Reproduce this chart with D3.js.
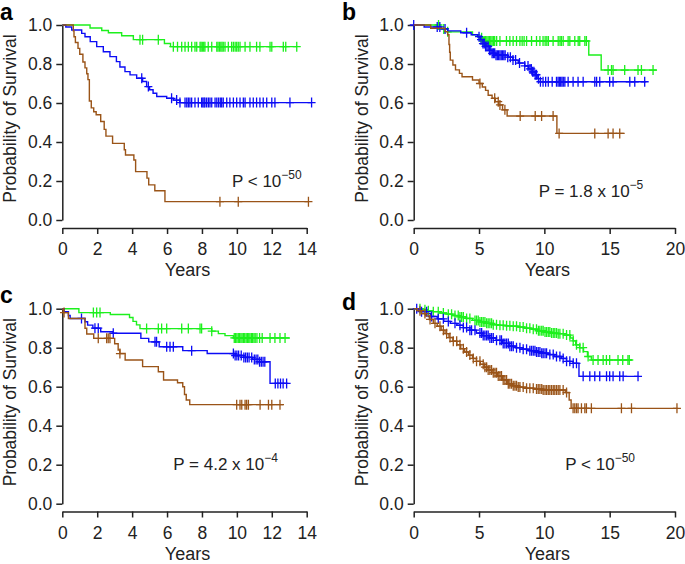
<!DOCTYPE html>
<html><head><meta charset="utf-8">
<script src="https://cdn.jsdelivr.net/npm/d3@7"></script>
<style>html,body{margin:0;padding:0;background:#fff;}svg{display:block;}</style>
</head><body>
<svg id="chart" width="685" height="564"></svg>
<script>
// ---------------- DATA ----------------
const yTicks = [0, 0.2, 0.4, 0.6, 0.8, 1.0];
const xTicks14 = [0, 2, 4, 6, 8, 10, 12, 14];
const xTicks20 = [0, 5, 10, 15, 20];
const panelLetters = ["a", "b", "c", "d"];
const pTexts = [["P < 10", "\u221250"], ["P = 1.8 x 10", "\u22125"], ["P = 4.2 x 10", "\u22124"], ["P < 10", "\u221250"]];
const groupNames = ["green", "blue", "brown"];

// Panel a: steps [time, survival after drop], censor times, end time
const aGreenSteps = [[1.59,.985],[2.26,.972],[2.64,.96],[3.4,.945],[4.07,.925],[5.85,.905],[6.2,.889]];
const aGreenCens = [4.45,4.6,5.5,6.36,6.6,6.84,7.03,7.22,7.41,7.6,7.7,7.89,7.95,8.02,8.1,8.17,8.36,8.56,8.85,8.92,9.0,9.08,9.15,9.22,9.32,9.51,9.7,9.8,9.9,9.99,10.08,10.18,10.47,10.75,11.13,11.32,11.9,12.0,12.66,12.8,13.43];
const aGreenEnd = 13.45;
const aBlueSteps = [[0.2,.99],[0.54,.974],[1.11,.957],[1.3,.94],[1.6,.915],[1.97,.889],[2.35,.863],[2.73,.838],[3.1,.812],[3.3,.785],[3.59,.761],[3.88,.744],[4.26,.727],[4.6,.71],[4.83,.684],[5.0,.668],[5.2,.65],[5.41,.633],[5.98,.624],[6.36,.615],[6.74,.602]];
const aBlueCens = [4.55,4.93,6.26,6.55,6.74,7.03,7.13,7.22,7.31,7.41,7.6,7.79,7.98,8.05,8.12,8.17,8.27,8.37,8.46,8.56,8.75,8.85,8.95,9.05,9.13,9.22,9.42,9.6,9.8,9.99,10.18,10.37,10.47,10.75,10.94,11.13,11.32,11.51,11.71,12.0,12.18,13.04,14.28];
const aBlueEnd = 14.3;
const aBrownSteps = [[0.63,.97],[0.67,.94],[0.75,.91],[0.9,.88],[1.0,.85],[1.18,.81],[1.3,.78],[1.4,.75],[1.47,.72],[1.55,.61],[1.66,.575],[1.8,.555],[1.94,.54],[2.2,.505],[2.4,.465],[2.5,.43],[2.88,.393],[3.55,.36],[3.62,.333],[4.1,.308],[4.2,.248],[4.85,.215],[4.95,.18],[5.3,.15],[5.88,.094]];
const aBrownCens = [9.03,10.08,14.1];
const aBrownEnd = 14.1;

// Panel b
const bGreenSteps = [[2.0,.98],[2.6,.965],[4.5,.95],[5.0,.935],[5.3,.918],[13.4,.846],[14.35,.769]];
const bGreenCens = [1.9,2.3,2.6,5.2,5.3,5.4,5.5,5.6,5.7,5.8,5.9,6.0,6.1,6.2,6.35,6.6,7.1,7.36,7.61,7.87,8.13,8.3,8.45,8.64,9.02,9.4,9.66,9.9,10.06,10.19,10.31,10.67,11.06,11.2,11.3,11.44,11.82,11.95,12.33,12.59,12.71,13.1,13.22,14.88,15.14,15.26,16.15,17.17,17.43,18.32];
const bGreenEnd = 18.6;
const bBlueSteps = [[0.8,.99],[2.1,.98],[2.6,.97],[3.6,.96],[4.4,.95],[4.9,.94],[5.1,.925],[5.3,.905],[5.5,.89],[5.8,.87],[6.0,.855],[6.3,.845],[7.2,.835],[7.6,.82],[8.0,.805],[8.5,.79],[8.8,.775],[9.1,.76],[9.3,.745],[9.5,.725],[9.7,.709]];
const bBlueCens = [0,1.8,2.0,2.4,4.05,5.0,5.15,5.3,5.4,5.5,5.6,5.7,5.8,5.9,6.0,6.1,6.2,6.3,6.4,6.5,6.6,6.7,6.8,6.9,7.0,7.2,7.4,7.6,7.8,8.1,8.5,8.75,8.9,9.0,9.1,9.2,9.3,9.4,9.55,9.7,9.9,10.1,10.3,10.6,10.93,11.05,11.15,11.25,11.35,11.45,11.57,11.82,12.2,12.58,12.97,13.86,14.0,14.24,15.0,15.26,16.54,16.92,17.68];
const bBlueEnd = 17.8;
const bBrownSteps = [[1.3,.983],[2.4,.966],[2.6,.95],[2.7,.9],[2.75,.86],[2.8,.82],[3.0,.795],[3.2,.77],[3.5,.752],[3.7,.735],[4.5,.718],[5.0,.7],[5.25,.682],[5.5,.665],[5.7,.64],[6.0,.624],[6.25,.607],[6.5,.59],[6.8,.565],[7.15,.533],[10.96,.444]];
const bBrownCens = [5.07,6.2,6.47,6.6,6.98,8.15,9.3,9.79,10.67,11.13,13.86,14.88,15.26,15.77];
const bBrownEnd = 16.15;

// Panel c
const cGreenSteps = [[0.95,.98],[2.75,.97],[3.85,.955],[4.05,.935],[4.25,.917],[4.45,.898],[8.56,.885],[8.94,.872],[9.32,.862],[9.8,.85]];
const cGreenCens = [1.78,1.97,2.16,4.83,5.5,5.69,5.98,6.84,7.22,7.89,7.98,8.56,9.85,9.92,10.0,10.08,10.15,10.23,10.3,10.38,10.45,10.53,10.6,10.68,10.75,10.83,10.9,10.98,11.05,11.15,11.3,11.45,11.9,12.18,12.47,12.76];
const cGreenEnd = 13.04;
const cBlueSteps = [[0.1,.985],[0.35,.965],[0.45,.95],[1.3,.933],[1.45,.916],[1.75,.9],[2.2,.882],[2.9,.874],[4.5,.848],[4.95,.83],[5.55,.805],[6.9,.785],[8.3,.77],[9.9,.76],[10.4,.75],[10.9,.74],[11.3,.728],[11.9,.617]];
const cBlueCens = [1.1,1.87,2.06,2.92,5.31,5.4,5.98,6.17,6.36,7.41,9.8,9.9,10.0,10.1,10.25,10.4,10.5,10.6,10.7,10.85,11.0,11.1,11.2,11.3,11.4,11.5,11.6,12.2,12.35,12.5,12.65,12.85];
const cBlueEnd = 12.95;
const cBrownSteps = [[0.05,.98],[0.35,.95],[1.3,.9],[1.4,.87],[1.8,.848],[3.0,.82],[3.2,.788],[3.3,.77],[3.6,.737],[4.6,.703],[5.5,.677],[5.8,.634],[6.6,.62],[6.9,.6],[7.0,.56],[7.1,.532],[7.3,.508]];
const cBrownCens = [0.1,2.06,2.54,2.63,2.73,3.3,9.99,10.18,10.28,10.47,10.56,10.66,11.33,11.81,12.0,12.47];
const cBrownEnd = 12.66;

// Panel d
const dGreenSteps = [[0.5,.995],[1.0,.99],[1.5,.985],[2.0,.978],[2.5,.972],[3.0,.965],[3.5,.958],[4.0,.95],[4.5,.94],[5.0,.932],[5.5,.925],[6.0,.918],[6.5,.915],[7.0,.912],[7.5,.91],[8.0,.906],[8.5,.9],[9.0,.895],[9.5,.887],[10.0,.88],[10.5,.875],[11.0,.872],[11.5,.865],[12.0,.85],[12.2,.835],[12.4,.815],[12.7,.8],[13.0,.78],[13.3,.755],[13.6,.737]];
const dGreenCens = [0.48,0.86,1.12,1.5,1.88,2.27,2.65,2.9,3.16,3.41,3.54,3.67,3.8,4.05,4.3,4.69,4.81,4.94,5.07,5.2,5.32,5.45,5.58,5.7,5.83,5.96,6.09,6.34,6.6,6.85,7.11,7.36,7.62,7.87,8.13,8.38,8.64,8.89,9.15,9.4,9.55,9.66,9.8,9.91,10.05,10.17,10.3,10.42,10.55,10.68,10.8,10.93,11.06,11.19,11.44,11.7,11.95,12.21,12.46,12.72,12.97,13.35,13.73,14.11,14.5,14.75,15.0,15.64,16.0,16.4,16.5];
const dGreenEnd = 16.7;
const dBlueSteps = [[0.3,.995],[0.6,.985],[1.0,.975],[1.3,.96],[1.8,.948],[2.3,.935],[2.8,.925],[3.3,.915],[3.8,.903],[4.3,.89],[4.8,.875],[5.3,.862],[5.8,.85],[6.3,.838],[6.8,.822],[7.3,.808],[7.8,.8],[8.3,.792],[8.8,.785],[9.3,.778],[9.8,.772],[10.3,.765],[10.8,.755],[11.3,.745],[11.7,.73],[12.2,.72],[12.65,.653]];
const dBlueCens = [0.23,0.6,0.99,1.37,1.88,2.27,2.65,3.16,3.54,3.8,4.05,4.3,4.43,4.69,5.07,5.2,5.32,5.45,5.58,5.7,5.83,5.96,6.09,6.34,6.6,6.72,6.85,6.98,7.11,7.24,7.36,7.49,7.62,7.87,8.13,8.38,8.64,8.89,9.02,9.15,9.28,9.4,9.53,9.66,9.8,9.91,10.05,10.17,10.42,10.68,10.93,11.19,11.44,11.7,11.95,12.21,12.46,12.97,13.48,13.86,14.24,14.76,15.0,15.26,15.77,16.03,17.17];
const dBlueEnd = 17.2;
const dBrownSteps = [[0.3,.99],[0.6,.975],[0.9,.963],[1.2,.945],[1.5,.925],[1.8,.91],[2.1,.89],[2.4,.872],[2.7,.852],[3.0,.833],[3.3,.815],[3.6,.795],[3.9,.778],[4.2,.762],[4.5,.745],[4.8,.73],[5.1,.715],[5.4,.7],[5.7,.686],[6.0,.672],[6.4,.655],[6.8,.635],[7.2,.615],[7.6,.605],[8.0,.598],[8.6,.592],[9.2,.588],[9.9,.583],[11.6,.57],[11.9,.532],[12.05,.489]];
const dBrownCens = [0.48,0.86,1.25,1.63,2.01,2.27,2.52,2.78,3.03,3.29,3.54,3.8,4.05,4.3,4.56,4.81,5.07,5.32,5.45,5.58,5.7,5.83,5.96,6.09,6.22,6.34,6.47,6.6,6.72,6.85,6.98,7.11,7.24,7.36,7.49,7.62,7.75,7.87,8.0,8.13,8.38,8.64,8.89,9.15,9.4,9.53,9.66,9.8,9.91,10.05,10.17,10.3,10.42,10.55,10.68,10.8,10.93,11.06,11.19,11.44,11.7,12.2,12.33,12.46,12.58,12.84,13.1,13.22,13.6,15.9,16.67,20.15];
const dBrownEnd = 20.2;

// ---------------- DRAW ----------------
const FONT = "'Liberation Sans', Arial, Helvetica, sans-serif";
const COLORS = {green: "#1cf01c", blue: "#0c0cf5", brown: "#9a5418"};
const INK = "#222";

const panels = [
  {x0: 62.3, x1: 306.7, yTop: 25, yBot: 220, axisY: 228, xMax: 14, xTicks: xTicks14, letter: [0, 20], pPos: [232, 187],
   curves: {green: [aGreenSteps, aGreenCens, aGreenEnd], blue: [aBlueSteps, aBlueCens, aBlueEnd], brown: [aBrownSteps, aBrownCens, aBrownEnd]}},
  {x0: 413.7, x1: 675, yTop: 25, yBot: 220, axisY: 228, xMax: 20, xTicks: xTicks20, letter: [342, 20], pPos: [538.7, 196.7],
   curves: {green: [bGreenSteps, bGreenCens, bGreenEnd], blue: [bBlueSteps, bBlueCens, bBlueEnd], brown: [bBrownSteps, bBrownCens, bBrownEnd]}},
  {x0: 62.3, x1: 306.7, yTop: 308.7, yBot: 503.7, axisY: 511.5, xMax: 14, xTicks: xTicks14, letter: [0, 303], pPos: [173.3, 470.3],
   curves: {green: [cGreenSteps, cGreenCens, cGreenEnd], blue: [cBlueSteps, cBlueCens, cBlueEnd], brown: [cBrownSteps, cBrownCens, cBrownEnd]}},
  {x0: 413.7, x1: 675, yTop: 308.7, yBot: 503.7, axisY: 511.5, xMax: 20, xTicks: xTicks20, letter: [342, 310], pPos: [565.3, 470.3],
   curves: {green: [dGreenSteps, dGreenCens, dGreenEnd], blue: [dBlueSteps, dBlueCens, dBlueEnd], brown: [dBrownSteps, dBrownCens, dBrownEnd]}}
];

const svg = d3.select("#chart");

function survAt(steps, t) {
  let s = 1;
  for (const [tt, ss] of steps) { if (tt <= t) s = ss; }
  return s;
}

panels.forEach((p, i) => {
  const g = svg.append("g");
  const x = d3.scaleLinear().domain([0, p.xMax]).range([p.x0, p.x1]);
  const y = d3.scaleLinear().domain([0, 1]).range([p.yBot, p.yTop]);

  // y axis
  const ya = g.append("g").attr("transform", `translate(${p.x0},0)`)
    .call(d3.axisLeft(y).tickValues(yTicks).tickFormat(d3.format(".1f")).tickSize(6).tickSizeOuter(0).tickPadding(4));
  // x axis
  const xa = g.append("g").attr("transform", `translate(0,${p.axisY})`)
    .call(d3.axisBottom(x).tickValues(p.xTicks).tickFormat(d3.format("d")).tickSize(6).tickSizeOuter(0).tickPadding(9));
  [ya, xa].forEach(a => {
    a.selectAll("path.domain").attr("stroke", INK).attr("stroke-width", 1.5);
    a.selectAll(".tick line").attr("stroke", INK).attr("stroke-width", 1.5);
    a.selectAll(".tick text").attr("fill", INK).style("font-family", FONT).style("font-size", "17.5px");
  });

  // axis titles
  g.append("text").attr("x", (p.x0 + p.x1) / 2 + 3).attr("y", p.axisY + 48)
    .attr("text-anchor", "middle").attr("fill", INK).style("font-family", FONT).style("font-size", "18px").text("Years");
  g.append("text").attr("transform", `translate(${p.x0 - 46},${(p.yTop + p.yBot) / 2 - 4}) rotate(-90)`)
    .attr("text-anchor", "middle").attr("fill", INK).style("font-family", FONT).style("font-size", "17.5px").text("Probability of Survival");

  // panel letter
  g.append("text").attr("x", p.letter[0]).attr("y", p.letter[1]).attr("fill", "#000")
    .style("font-family", FONT).style("font-size", "23px").style("font-weight", "bold").text(panelLetters[i]);

  // P value
  const pt = g.append("text").attr("x", p.pPos[0]).attr("y", p.pPos[1]).attr("fill", INK)
    .style("font-family", FONT).style("font-size", "17px");
  pt.append("tspan").text(pTexts[i][0]);
  pt.append("tspan").attr("dy", -8).style("font-size", "12px").text(pTexts[i][1]);

  // curves
  const line = d3.line().x(d => x(d[0])).y(d => y(d[1])).curve(d3.curveStepAfter);
  groupNames.forEach(name => {
    const [steps, cens, end] = p.curves[name];
    const pts = [[0, 1], ...steps, [end, steps[steps.length - 1][1]]];
    g.append("path").attr("d", line(pts)).attr("fill", "none")
      .attr("stroke", COLORS[name]).attr("stroke-width", 1.4);
    g.append("g").selectAll("path").data(cens).join("path")
      .attr("d", t => {
        const cx = x(t), cy = y(survAt(steps, t));
        return `M${cx - 4},${cy}H${cx + 4}M${cx},${cy - 5}V${cy + 5}`;
      })
      .attr("stroke", COLORS[name]).attr("stroke-width", 1.3).attr("fill", "none");
  });
});
</script>
</body></html>
